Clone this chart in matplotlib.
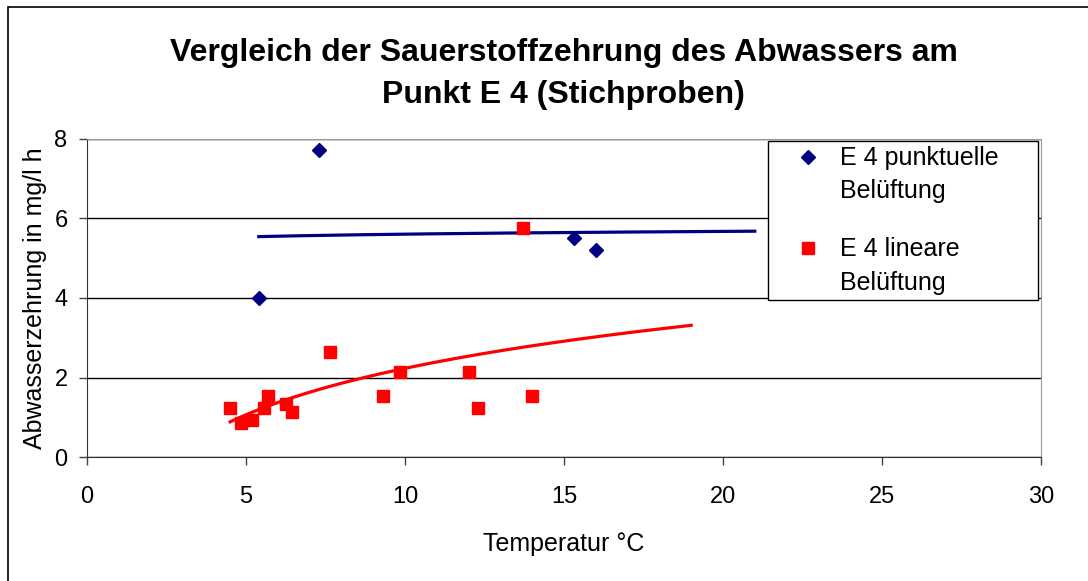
import matplotlib.pyplot as plt
import numpy as np
from matplotlib.patches import Rectangle

# E 4 punktuelle Belüftung
temp_punkt = [5.4, 7.3, 15.3, 16.0]
zehrung_punkt = [4.0, 7.72, 5.5, 5.2]

# E 4 lineare Belüftung
temp_linear = [4.5, 4.85, 5.2, 5.55, 5.7, 6.25, 6.45, 7.65, 9.3, 9.85, 12.0, 12.3, 13.7, 14.0]
zehrung_linear = [1.24, 0.85, 0.93, 1.24, 1.53, 1.34, 1.14, 2.65, 1.53, 2.14, 2.14, 1.24, 5.75, 1.53]

forecast = 5  # trendline forward forecast (Excel)

plt.rcParams["font.family"] = ["Liberation Sans", "DejaVu Sans"]

fig = plt.figure(figsize=(10.88, 5.81), dpi=100)
ax = fig.add_axes([0.0800, 0.2134, 0.8768, 0.5474])

# outer chart frame
fig.patches.append(Rectangle((8 / 1088, -0.05), 1.2, 1 - 7 / 581 + 0.05, transform=fig.transFigure,
                             fill=False, edgecolor="black", linewidth=1.2))


def log_trend(x, y):
    x = np.array(x)
    coefs = np.polyfit(np.log(x), y, 1)
    xs = np.linspace(x.min(), x.max() + forecast, 200)
    return xs, coefs[0] * np.log(xs) + coefs[1]


xs, ys = log_trend(temp_punkt, zehrung_punkt)
ax.plot(xs, ys, color="#000080", linewidth=2.3, zorder=2)
xs, ys = log_trend(temp_linear, zehrung_linear)
ax.plot(xs, ys, color="#FF0000", linewidth=2.3, zorder=2)

ax.plot(temp_punkt, zehrung_punkt, linestyle="none", marker="D", markersize=7,
        color="#000080", label="E 4 punktuelle\nBelüftung", zorder=3)
ax.plot(temp_linear, zehrung_linear, linestyle="none", marker="s", markersize=8.5,
        color="#FF0000", label="E 4 lineare\nBelüftung", zorder=3)

ax.set_xlim(0, 30)
ax.set_ylim(0, 8)
ax.set_xticks(range(0, 31, 5))
ax.set_yticks(range(0, 9, 2))
ax.yaxis.grid(True, color="black", linewidth=1)
ax.set_axisbelow(True)
ax.tick_params(labelsize=17, length=6, width=1, color="#444444")
ax.tick_params(axis="x", pad=15)
ax.tick_params(axis="y", pad=8)
for s in ["top", "right"]:
    ax.spines[s].set_color("#999999")
for s in ["left", "bottom"]:
    ax.spines[s].set_color("#333333")

ax.set_xlabel("Temperatur °C", fontsize=18, labelpad=17)
ax.set_ylabel("Abwasserzehrung in mg/l h", fontsize=18, labelpad=5)

fig.text(0.518, 0.873, "Vergleich der Sauerstoffzehrung des Abwassers am\nPunkt E 4 (Stichproben)",
         ha="center", va="center", fontsize=23, fontweight="bold", linespacing=1.5)

leg = ax.legend(loc="upper left", bbox_to_anchor=(0.7138, 0.0, 0.2831, 0.9937), mode="expand",
                fontsize=18, frameon=True, fancybox=False, edgecolor="black", framealpha=1,
                borderpad=0.2, labelspacing=1.35, handletextpad=-0.1, handlelength=2.8,
                borderaxespad=0)
leg.get_frame().set_linewidth(1)
for t in leg.get_texts():
    t.set_linespacing(1.5)
# markers sit next to the first text line, as in Excel
for h in leg.legend_handles:
    h.set_ydata(np.asarray(h.get_ydata()) + 13.5)

fig.savefig("out.png", dpi=100)
